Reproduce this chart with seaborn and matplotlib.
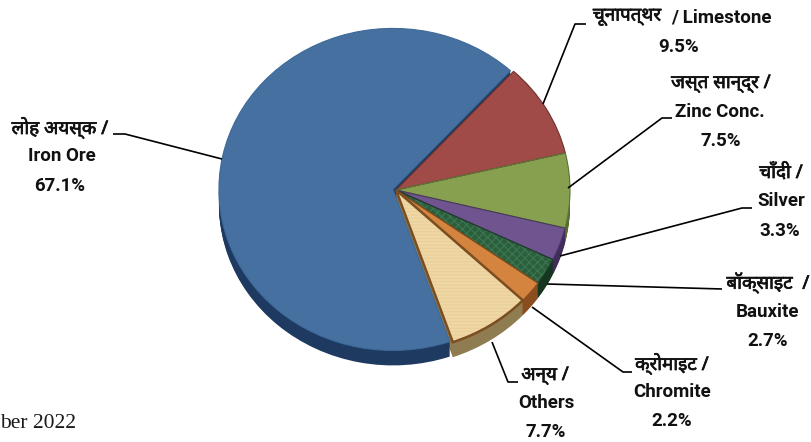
import matplotlib
matplotlib.use("Agg")
import matplotlib.pyplot as plt
import matplotlib.patheffects as pe
import seaborn as sns

# minerals, clockwise from the top right
hindi_names = ["चूनापत्थर", "जस्त सान्द्र /", "चाँदी /", "बॉक्साइट  /", "क्रोमाइट /", "अन्य /", "लोह अयस्क /"]
english_names = ["/ Limestone", "Zinc Conc.", "Silver", "Bauxite", "Chromite", "Others", "Iron Ore"]
shares = [9.5, 7.5, 3.3, 2.7, 2.2, 7.7, 67.1]

top_colors = ["#A04B47", "#86A04F", "#6F5490", "#2B5E3B", "#D5843F", "#F0D8A4", "#46709F"]
side_colors = ["#6B2F2C", "#566B30", "#3F2D5A", "#17361F", "#8A4E1E", "#8F7C50", "#1E3A60"]
outline_colors = ["#6E3330", "#5F7536", "#4A3568", "#1B3F26", "#8A4E1E", "#7A4E22", "#3D6A9A"]

# pixel layout of the pie
cx, cy, rx, ry = 396, 190, 174, 161
depth = 15
W, H = 812, 442
start = 47.5
offsets = [0, 0, 0, 0, 0, 0, 0.018]

sns.set_theme(style="white")
plt.rcParams["font.family"] = ["Roboto", "Noto Sans", "DejaVu Sans"]

fig = plt.figure(figsize=(W / 100, H / 100), dpi=100)
ax = fig.add_axes([0, 0, 1, 1])

# side wall first, then the top face
for d in range(depth, 0, -1):
    ax.pie(shares, startangle=start, counterclock=False, radius=1, explode=offsets,
           center=(0, -d / ry), colors=sns.color_palette(side_colors),
           wedgeprops={"linewidth": 0}, frame=True)

wedges, _ = ax.pie(shares, startangle=start, counterclock=False, radius=1, explode=offsets,
                   colors=sns.color_palette(top_colors), frame=True,
                   wedgeprops={"linewidth": 0})

# texture on the two picture-filled slices, hatch colour comes from the edge colour
plt.rcParams["hatch.linewidth"] = 0.4
wedges[3].set_edgecolor("#3A7350")
wedges[3].set_hatch("xxxx")
wedges[5].set_edgecolor("#EACF9A")
wedges[5].set_hatch("-----")

# outlines on top
rims, _ = ax.pie(shares, startangle=start, counterclock=False, radius=1, explode=offsets,
                 frame=True, wedgeprops={"linewidth": 0.8, "fill": False})
for rim, col in zip(rims, outline_colors):
    rim.set_edgecolor(col)
rims[5].set_linewidth(1.8)

ax.set_aspect("auto")
ax.set_xlim((0 - cx) / rx, (W - cx) / rx)
ax.set_ylim((cy - H) / ry, cy / ry)
ax.axis("off")

# overlay in pixel coordinates for the call-outs
ov = fig.add_axes([0, 0, 1, 1], facecolor="none")
ov.set_xlim(0, W)
ov.set_ylim(H, 0)
ov.axis("off")

leaders = [
    [(543, 104), (575, 24), (586, 24)],
    [(568, 188), (662, 118), (672, 118)],
    [(560, 256), (742, 208), (752, 208)],
    [(547, 284), (722, 289)],
    [(532, 307), (623, 372), (632, 372)],
    [(492, 342), (508, 382), (518, 382)],
    [(222, 159), (125, 134), (113, 134)],
]
for pts in leaders:
    ov.plot([p[0] for p in pts], [p[1] for p in pts], color="black", lw=1.2,
            solid_capstyle="butt")

latin_style = dict(va="center", fontsize=13.5, fontweight="bold", color="#111111")
hindi_style = dict(va="center", fontsize=13.5, color="#111111", family=["Noto Sans", "DejaVu Sans"],
                   path_effects=[pe.withStroke(linewidth=0.5, foreground="#111111")])
name_pos = [(627, 17), (721, 84), (781, 173), (768, 283), (672, 364), (545, 376), (60, 128)]
eng_pos = [(721, 17), (720, 112), (781, 201), (768, 312), (672, 392), (546, 403), (62, 156)]
pct_pos = [(679, 47), (721, 141), (780, 231), (768, 341), (672, 421), (546, 432), (60, 186)]

for i, share in enumerate(shares):
    ov.text(*name_pos[i], hindi_names[i], ha="center", **hindi_style)
    ov.text(*eng_pos[i], english_names[i], ha="center", **latin_style)
    ov.text(*pct_pos[i], f"{share}%", ha="center", **latin_style)

ov.text(0, 423, "ber 2022", ha="left", va="center", fontsize=15.5,
        family="Liberation Serif", color="#1A1A1A")

fig.savefig("out.png", dpi=100)
